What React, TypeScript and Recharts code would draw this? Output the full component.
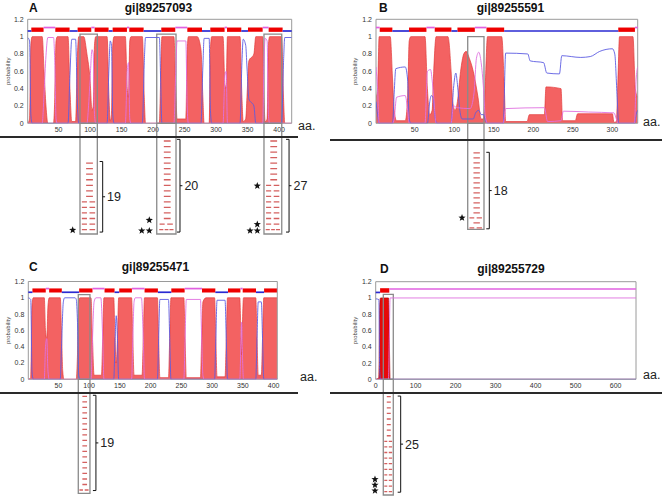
import React from 'react';
import {
  ComposedChart, Area, Line, Scatter, XAxis, YAxis,
  ReferenceArea, ReferenceLine, ReferenceDot,
} from 'recharts';

type Pt = [number, number];
type Seg = [number, number, string];

const FONT = '"Liberation Sans", Arial, sans-serif';
const yTicks = [0, 0.2, 0.4, 0.6, 0.8, 1, 1.2];

// ---------------- Panel A : gi|89257093 ----------------
const aTitle = 'gi|89257093';
const aTicks = [50, 100, 150, 200, 250, 300, 350, 400];
const aTm: Pt[] = [
  [1, 0], [4, 0.05], [6, 0.9], [8, 1], [24, 1], [27, 0.6], [30, 0.2], [33, 0],
  [42, 0], [44, 0.3], [46, 0.95], [48, 1], [65, 1], [68, 0.4], [71, 0.02],
  [77, 0.02], [80, 0.8], [82, 1], [90, 1], [95, 0.8], [100, 0.5], [103, 0.15], [105, 0.2], [107, 0.9], [109, 1],
  [127, 1], [130, 0.3], [132, 0.03], [134, 0.1], [136, 0.9], [138, 1], [156, 1], [159, 0.4], [161, 0.3], [163, 0.95], [165, 1],
  [183, 1], [186, 0.3], [188, 0], [210, 0], [212, 0.5], [214, 1], [233, 1], [236, 0.4], [238, 0.05],
  [252, 0.05], [254, 0.8], [256, 1], [270, 1], [276, 0.85], [279, 0.3], [281, 0], [289, 0], [291, 0.85], [293, 1],
  [311, 1], [314, 0.45], [316, 0.4], [318, 1], [338, 1], [341, 0.3], [343, 0.02], [347, 0.05], [349, 0.3], [352, 0.72],
  [360, 0.8], [363, 1], [374, 1], [376, 0.3], [378, 0.02], [381, 0.05], [383, 0.9], [385, 1], [404, 1], [407, 0.3], [409, 0], [420, 0],
];
const aIn: Pt[] = [
  [1, 0.99], [4, 0.95], [6, 0.1], [8, 0], [65, 0], [68, 0.55], [71, 0.97], [77, 0.97], [80, 0.2], [82, 0],
  [127, 0], [130, 0.65], [132, 0.95], [134, 0.9], [136, 0.1], [138, 0], [183, 0], [186, 0.7], [188, 0.99],
  [210, 0.99], [212, 0.5], [214, 0], [276, 0], [279, 0.65], [281, 0.98], [289, 0.98], [291, 0.15], [293, 0],
  [338, 0], [341, 0.7], [343, 0.97], [347, 0.9], [349, 0.65], [352, 0.28], [360, 0.2], [363, 0],
  [404, 0], [407, 0.7], [409, 0.99], [420, 0.99],
];
const aOut: Pt[] = [
  [1, 0], [24, 0], [27, 0.35], [30, 0.78], [33, 0.99], [42, 0.99], [44, 0.7], [46, 0.05], [48, 0],
  [95, 0], [98, 0.25], [100, 0.5], [103, 0.85], [105, 0.8], [107, 0.1], [109, 0],
  [156, 0], [159, 0.6], [161, 0.7], [163, 0.05], [165, 0], [233, 0], [236, 0.6], [238, 0.95],
  [252, 0.95], [254, 0.2], [256, 0], [311, 0], [314, 0.55], [316, 0.6], [318, 0],
  [374, 0], [376, 0.7], [378, 0.98], [381, 0.95], [383, 0.1], [385, 0], [420, 0],
];
const aTopo: Seg[] = [
  [1, 6.7, 'in'], [6.7, 26.2, 'tm'], [26.2, 44.8, 'out'], [44.8, 67.5, 'tm'], [67.5, 80.2, 'in'],
  [80.2, 101.9, 'tm'], [101.9, 107.2, 'out'], [107.2, 129.4, 'tm'], [129.4, 135.8, 'in'], [135.8, 158.5, 'tm'],
  [158.5, 162.2, 'out'], [162.2, 185, 'tm'], [185, 213, 'in'], [213, 235.2, 'tm'], [235.2, 254.3, 'out'],
  [254.3, 277.6, 'tm'], [277.6, 290.8, 'in'], [290.8, 313.5, 'tm'], [313.5, 317.3, 'out'], [317.3, 340, 'tm'],
  [340, 350.6, 'in'], [350.6, 373.9, 'tm'], [373.9, 383.4, 'out'], [383.4, 405.6, 'tm'], [405.6, 420, 'in'],
];
const aBoxes: Pt[] = [[84, 111.5], [205.8, 236.4], [376, 404.2]];
const aRows: string[] = ['ssssssspppppp', 'ssssssssssssssspt', 'ssssssssppppppppt'];
const aBrackets: [number, number, number, string][] = [
  [120, 13.1, 0.35, '19'], [242.7, 17.1, 0.35, '20'], [415.8, 17.1, 0.35, '27'],
];
const aStars: Pt[] = [[72.4, 0.7], [194, 2.5], [182, 0.6], [194, 0.6], [365.4, 8.7], [365.4, 1.75], [353.9, 0.6], [365.4, 0.6]];

// ---------------- Panel B : gi|89255591 ----------------
const bTitle = 'gi|89255591';
const bTicks = [50, 100, 150, 200, 250, 300];
const bTm: Pt[] = [
  [1, 0.3], [3, 0.4], [5, 1], [19, 1], [22, 0.5], [24, 0.15], [27, 0.03], [38, 0.03], [41, 0.3], [43, 0.95], [45, 1],
  [63, 1], [66, 0.4], [69, 0.1], [72, 0.15], [74, 0.6], [77, 1], [92, 1], [96, 0.6], [98, 0.25], [101, 0.15],
  [104, 0.25], [108, 0.6], [112, 0.8], [115, 0.83], [119, 0.75], [124, 0.6], [130, 0.3], [134, 0.05], [137, 0.05],
  [139, 0.4], [142, 1], [160, 1], [163, 0.5], [165, 0.02], [192, 0.02], [195, 0.1], [214, 0.1], [216, 0.42],
  [235, 0.4], [237, 0.03], [253, 0.03], [256, 0.11], [300, 0.11], [302, 0.01], [305, 0.02], [307, 0.5], [309, 1],
  [326, 1], [329, 0.4], [332, 0.3],
];
const bIn: Pt[] = [
  [1, 0.25], [3, 0.1], [5, 0], [22, 0], [24, 0.35], [26, 0.63], [38, 0.65], [41, 0.5], [43, 0.05], [45, 0],
  [66, 0], [69, 0.25], [71, 0.32], [73, 0.3], [76, 0.05], [78, 0], [96, 0], [99, 0.4], [102, 0.58], [104, 0.45],
  [107, 0.15], [110, 0.05], [124, 0.05], [127, 0.12], [131, 0.15], [134, 0.1], [137, 0.1], [140, 0.02], [142, 0],
  [162, 0], [165, 0.81], [193, 0.8], [196, 0.72], [213, 0.7], [217, 0.58], [233, 0.57], [236, 0.78], [260, 0.76],
  [272, 0.77], [284, 0.83], [300, 0.86], [303, 0.8], [306, 0.3], [308, 0], [328, 0], [330, 0.1], [332, 0.15],
];
const bOut: Pt[] = [
  [1, 0.65], [3, 0.4], [5, 0], [22, 0], [24, 0.05], [27, 0.3], [38, 0.32], [41, 0.15], [43, 0], [63, 0],
  [66, 0.6], [70, 0.62], [72, 0.5], [74, 0.3], [77, 0], [96, 0], [99, 0.2], [104, 0.18], [120, 0.17], [125, 0.35],
  [128, 0.75], [131, 0.82], [134, 0.7], [137, 0.4], [139, 0.1], [142, 0], [162, 0], [165, 0.17], [214, 0.18],
  [218, 0.02], [235, 0.03], [238, 0.14], [270, 0.13], [302, 0.12], [305, 0.05], [307, 0], [328, 0], [330, 0.5], [332, 0.65],
];
const bTopo: Seg[] = [
  [1, 5.7, 'out'], [5.7, 21.7, 'tm'], [21.7, 42.8, 'in'], [42.8, 64.8, 'tm'], [64.8, 75.3, 'out'],
  [75.3, 96.4, 'tm'], [96.4, 104, 'in'], [104, 126, 'tm'], [126, 140.7, 'out'], [140.7, 163.1, 'tm'],
  [163.1, 307.4, 'in'], [307.4, 328.5, 'tm'], [328.5, 332, 'out'],
];
const bBoxes: Pt[] = [[117, 137.6]];
const bRows: string[] = ['ssssssssssssspsp'];
const bBrackets: [number, number, number, string][] = [[144.3, 15.4, 0.1, '18']];
const bStars: Pt[] = [[109.8, 2.3]];

// ---------------- Panel C : gi|89255471 ----------------
const cTitle = 'gi|89255471';
const cTicks = [50, 100, 150, 200, 250, 300, 350, 400];
const cTm: Pt[] = [
  [1, 0], [5, 0.02], [7, 0.9], [9, 1], [27, 1], [29, 0.6], [31, 0.5], [33, 0.9], [35, 1], [53, 1], [55, 0.6],
  [57, 0.1], [59, 0], [79, 0], [81, 0.3], [83, 0.95], [85, 1], [103, 1], [105, 0.6], [108, 0.05], [120, 0.05],
  [122, 0.5], [124, 1], [140, 1], [142, 0.5], [144, 0.2], [146, 0.5], [148, 1], [169, 1], [171, 0.5], [173, 0.05],
  [186, 0.05], [188, 0.5], [190, 1], [211, 1], [213, 0.5], [215, 0.02], [229, 0.02], [231, 0.5], [233, 1],
  [254, 1], [256, 0.5], [258, 0.02], [281, 0.02], [283, 0.5], [285, 0.95], [290, 1], [304, 1], [306, 0.5],
  [308, 0.03], [321, 0.03], [323, 0.5], [325, 1], [345, 1], [347, 0.5], [348, 0.3], [349, 0.6], [351, 1],
  [371, 1], [373, 0.5], [375, 0.05], [380, 0.05], [382, 0.5], [384, 1], [406, 1],
];
const cIn: Pt[] = [
  [1, 1], [5, 0.98], [7, 0.1], [9, 0], [53, 0], [55, 0.4], [58, 0.95], [60, 1], [77, 1], [79, 0.98], [81, 0.7],
  [83, 0.05], [85, 0], [140, 0], [142, 0.45], [144, 0.78], [146, 0.5], [148, 0], [211, 0], [213, 0.5], [215, 0.98],
  [229, 0.98], [231, 0.5], [233, 0], [304, 0], [306, 0.5], [308, 0.97], [321, 0.97], [323, 0.5], [325, 0],
  [371, 0], [373, 0.5], [375, 0.95], [380, 0.95], [382, 0.5], [384, 0], [406, 0],
];
const cOut: Pt[] = [
  [1, 0], [27, 0], [29, 0.4], [31, 0.5], [33, 0.1], [35, 0], [103, 0], [105, 0.4], [108, 0.95], [111, 1],
  [119, 1], [122, 0.5], [124, 0], [169, 0], [171, 0.5], [173, 0.95], [175, 1], [185, 1], [188, 0.5], [190, 0],
  [254, 0], [256, 0.5], [258, 0.98], [281, 0.98], [283, 0.5], [285, 0.05], [287, 0], [345, 0], [347, 0.5],
  [348, 0.7], [349, 0.4], [351, 0], [406, 0],
];
const cTopo: Seg[] = [
  [1, 7.7, 'in'], [7.7, 29.4, 'tm'], [29.4, 34.9, 'out'], [34.9, 55.5, 'tm'], [55.5, 83.7, 'in'],
  [83.7, 105.4, 'tm'], [105.4, 125, 'out'], [125, 141.3, 'tm'], [141.3, 148.9, 'in'], [148.9, 169.5, 'tm'],
  [169.5, 190.1, 'out'], [190.1, 211.8, 'tm'], [211.8, 233.6, 'in'], [233.6, 255.3, 'tm'], [255.3, 283.5, 'out'],
  [283.5, 305.2, 'tm'], [305.2, 325.8, 'in'], [325.8, 346, 'tm'], [346, 349.7, 'out'], [349.7, 371.4, 'tm'],
  [371.4, 384.5, 'in'], [384.5, 405.6, 'tm'], [405.6, 406, 'out'],
];
const cBoxes: Pt[] = [[82.3, 101.3]];
const cRows: string[] = ['sssssssssssssssssp'];
const cBrackets: [number, number, number, string][] = [[111, 17.8, 0.5, '19']];
const cStars: Pt[] = [];

// ---------------- Panel D : gi|89255729 ----------------
const dTitle = 'gi|89255729';
const dTicks = [0, 100, 200, 300, 400, 500, 600];
const dTm: Pt[] = [[0, 0], [8, 0.02], [10, 0.9], [12, 1], [32, 1], [34, 0.5], [36, 0], [651, 0]];
const dIn: Pt[] = [[0, 0.99], [8, 0.98], [10, 0.1], [12, 0], [651, 0]];
const dOut: Pt[] = [[0, 0], [32, 0], [34, 0.5], [36, 1], [651, 1]];
const dTopo: Seg[] = [[0, 11, 'in'], [11, 34, 'tm'], [34, 651, 'out']];
const dBoxes: Pt[] = [[19, 44]];
const dRows: string[] = ['sssssssspppppppppp'];
const dBrackets: [number, number, number, string][] = [[62.5, 17.7, 0.5, '25']];
const dStars: Pt[] = [[-1.75, 2.8], [-1.75, 1.8], [-1.75, 0.77]];

// ---------------- helpers ----------------
const toXY = (arr: Pt[]) => arr.map(([x, y]) => ({ x, y }));

function starPath(cx: number, cy: number, R: number, r: number) {
  let d = '';
  for (let i = 0; i < 10; i++) {
    const ang = -Math.PI / 2 + (i * Math.PI) / 5;
    const rad = i % 2 === 0 ? R : r;
    d += (i === 0 ? 'M' : 'L') + (cx + rad * Math.cos(ang)).toFixed(2) + ',' + (cy + rad * Math.sin(ang)).toFixed(2);
  }
  return d + 'Z';
}

const StarShape = (props: any) => {
  const { cx, cy } = props;
  if (cx == null || cy == null) return null;
  return <path d={starPath(cx, cy, 3.8, 1.6)} fill="#111" />;
};

const makeDash = (bw: number) => (props: any) => {
  const { cx, cy, payload } = props;
  if (cx == null || cy == null) return null;
  const k = payload.k;
  let segs: [number, number][];
  if (k === 's') segs = [[-0.15 * bw, 0.25 * bw]];
  else if (k === 'p') segs = [[-0.4 * bw, -0.1 * bw], [0.05 * bw, 0.38 * bw]];
  else segs = [[-0.42 * bw, -0.18 * bw], [-0.1 * bw, 0.12 * bw], [0.18 * bw, 0.42 * bw]];
  return (
    <g>
      {segs.map(([a, b], i) => (
        <line key={i} x1={cx + a} x2={cx + b} y1={cy} y2={cy} stroke="#d4605f" strokeWidth={1.3} />
      ))}
    </g>
  );
};

type Rect = { left: number; top: number; w: number; h: number };
type Plot = { x0: number; x1: number; y0: number; y1: number };

function Profile(p: {
  box: Rect; plot: Plot; domain: [number, number]; xTicks: number[];
  tm: Pt[]; inn: Pt[]; out: Pt[]; topo: Seg[]; boxes: Pt[]; boxTop: number;
  redFill: string; redStroke: string; topoY: { r0: number; r1: number; b: number; m: number };
  probOffset: number;
}) {
  const { box, plot } = p;
  const xH = 14;
  const margin = {
    top: plot.y0 - box.top,
    left: 0,
    right: box.left + box.w - plot.x1,
    bottom: box.top + box.h - plot.y1 - xH,
  };
  const tickStyle = { fontSize: 7, fill: '#333', fontFamily: FONT };
  return (
    <div style={{ position: 'absolute', left: box.left, top: box.top }}>
      <ComposedChart width={box.w} height={box.h} margin={margin}>
        <XAxis type="number" dataKey="x" domain={p.domain} ticks={p.xTicks} allowDataOverflow interval={0}
          axisLine={false} tickLine={false} tickSize={0} tickMargin={4} height={xH} tick={tickStyle} />
        <YAxis type="number" domain={[0, 1.2]} ticks={yTicks} allowDataOverflow interval={0}
          axisLine={false} tickLine={false} tickSize={0} tickMargin={4} width={plot.x0 - box.left} tick={tickStyle}
          label={{ value: 'probability', angle: -90, position: 'insideLeft', offset: p.probOffset,
            style: { textAnchor: 'middle', fontSize: 6, fill: '#444', fontFamily: FONT } }} />
        <Area data={toXY(p.tm)} dataKey="y" type="monotone" fill={p.redFill} fillOpacity={1}
          stroke={p.redStroke} strokeWidth={0.7} isAnimationActive={false} />
        <Line data={toXY(p.inn)} dataKey="y" type="monotone" stroke="#5c5ce2" strokeWidth={0.9}
          dot={false} isAnimationActive={false} />
        <Line data={toXY(p.out)} dataKey="y" type="monotone" stroke="#e070e0" strokeWidth={0.9}
          dot={false} isAnimationActive={false} />
        {p.topo.map(([s, e, k], i) =>
          k === 'tm' ? (
            <ReferenceArea key={'t' + i} x1={s} x2={e} y1={p.topoY.r0} y2={p.topoY.r1}
              fill="#ee0000" fillOpacity={1} stroke="none" ifOverflow="visible" />
          ) : (
            <ReferenceLine key={'t' + i}
              segment={[{ x: s, y: k === 'in' ? p.topoY.b : p.topoY.m }, { x: e, y: k === 'in' ? p.topoY.b : p.topoY.m }]}
              stroke={k === 'in' ? '#2a2ad2' : '#e060e0'} strokeWidth={1.7} ifOverflow="visible" />
          ))}
        {p.boxes.map(([a, b], i) => (
          <ReferenceArea key={'b' + i} x1={a} x2={b} y1={0} y2={p.boxTop} fill="none"
            stroke="#8a8a8a" strokeWidth={1.3} ifOverflow="visible" />
        ))}
        <ReferenceArea x1={p.domain[0]} x2={p.domain[1]} y1={0} y2={1.2} fill="none"
          stroke="#9a9a9a" strokeWidth={1} ifOverflow="visible" />
      </ComposedChart>
    </div>
  );
}

function Alignment(p: {
  box: Rect; plot: Plot; domain: [number, number]; yDomain: [number, number];
  boxes: Pt[]; rows: string[]; rowBase: number; brackets: [number, number, number, string][];
  stars: Pt[]; tickLen: number; boxPx: number;
}) {
  const { box, plot } = p;
  const margin = {
    top: plot.y0 - box.top,
    left: plot.x0 - box.left,
    right: box.left + box.w - plot.x1,
    bottom: box.top + box.h - plot.y1,
  };
  const dashData: { x: number; y: number; k: string }[] = [];
  p.boxes.forEach(([a, b], i) => {
    const s = p.rows[i];
    const n = s.length;
    for (let j = 0; j < n; j++) {
      dashData.push({ x: (a + b) / 2, y: p.rowBase + (n - 1 - j), k: s[j] });
    }
  });
  const starData = p.stars.map(([x, y]) => ({ x, y }));
  const Dash = makeDash(p.boxPx);
  return (
    <div style={{ position: 'absolute', left: box.left, top: box.top }}>
      <ComposedChart width={box.w} height={box.h} margin={margin}>
        <XAxis type="number" dataKey="x" domain={p.domain} allowDataOverflow hide />
        <YAxis type="number" dataKey="y" domain={p.yDomain} allowDataOverflow hide />
        {p.boxes.map(([a, b], i) => (
          <ReferenceArea key={'b' + i} x1={a} x2={b} y1={p.yDomain[0]} y2={p.yDomain[1]} fill="none"
            stroke="#8a8a8a" strokeWidth={1.3} ifOverflow="visible" />
        ))}
        <Scatter data={dashData} shape={Dash} isAnimationActive={false} />
        <Scatter data={starData} shape={StarShape} isAnimationActive={false} />
        {p.brackets.map(([x, top, bot, label], i) => (
          <React.Fragment key={'k' + i}>
            <ReferenceLine segment={[{ x, y: top }, { x, y: bot }]} stroke="#111" strokeWidth={1} ifOverflow="visible" />
            <ReferenceLine segment={[{ x: x - p.tickLen, y: top }, { x, y: top }]} stroke="#111" strokeWidth={1} ifOverflow="visible" />
            <ReferenceLine segment={[{ x: x - p.tickLen, y: bot }, { x, y: bot }]} stroke="#111" strokeWidth={1} ifOverflow="visible" />
            <ReferenceLine segment={[{ x, y: (top + bot) / 2 }, { x: x + p.tickLen * 0.8, y: (top + bot) / 2 }]} stroke="#111" strokeWidth={1} ifOverflow="visible" />
            <ReferenceDot x={x + p.tickLen * 0.8} y={(top + bot) / 2} r={0.5} fill="none" stroke="none" ifOverflow="visible"
              label={{ value: label, position: 'right', offset: 1.5, fontSize: 12.5, fill: '#222', fontFamily: FONT }} />
          </React.Fragment>
        ))}
      </ComposedChart>
    </div>
  );
}

const titleStyle = (left: number, top: number, center = false): React.CSSProperties => ({
  position: 'absolute', left, top, fontSize: 12, lineHeight: '12px', fontWeight: 'bold',
  fontFamily: FONT, color: '#111', whiteSpace: 'nowrap',
  transform: center ? 'translateX(-50%)' : undefined,
});
const aaStyle = (left: number, top: number): React.CSSProperties => ({
  position: 'absolute', left, top, fontSize: 12.5, lineHeight: '12.5px', fontFamily: FONT, color: '#222',
});
const rule = (left: number, top: number, width: number): React.CSSProperties => ({
  position: 'absolute', left, top, width, height: 2, background: '#2a2a2a',
});

export default function App() {
  const topoAB = { r0: 1.055, r1: 1.105, b: 1.065, m: 1.105 };
  const topoC = { r0: 1.065, r1: 1.115, b: 1.068, m: 1.113 };
  const topoD = { r0: 1.065, r1: 1.12, b: 1.068, m: 1.11 };
  return (
    <div style={{ position: 'absolute', left: 0, top: 0, width: 662, height: 498, background: '#fff', overflow: 'hidden', fontFamily: FONT }}>
      {/* Panel A */}
      <Profile box={{ left: 0, top: 0, w: 300, h: 140 }} plot={{ x0: 27.7, x1: 291.7, y0: 19.3, y1: 123.3 }}
        domain={[1, 420]} xTicks={aTicks} tm={aTm} inn={aIn} out={aOut} topo={aTopo} boxes={aBoxes} boxTop={1.03}
        redFill="#f36262" redStroke="#e23a3a" topoY={topoAB} probOffset={7.5} />
      {/* Panel B */}
      <Profile box={{ left: 330, top: 0, w: 320, h: 140 }} plot={{ x0: 376, x1: 637.7, y0: 19.3, y1: 123.3 }}
        domain={[1, 332]} xTicks={bTicks} tm={bTm} inn={bIn} out={bOut} topo={bTopo} boxes={bBoxes} boxTop={1.0}
        redFill="#f36262" redStroke="#e23a3a" topoY={topoAB} probOffset={24.5} />
      {/* Panel C */}
      <Profile box={{ left: 0, top: 255, w: 300, h: 140 }} plot={{ x0: 28.3, x1: 277.3, y0: 281.5, y1: 379.3 }}
        domain={[1, 406]} xTicks={cTicks} tm={cTm} inn={cIn} out={cOut} topo={cTopo} boxes={cBoxes} boxTop={1.04}
        redFill="#f36262" redStroke="#e23a3a" topoY={topoC} probOffset={7.5} />
      {/* Panel D */}
      <Profile box={{ left: 330, top: 255, w: 320, h: 140 }} plot={{ x0: 375.7, x1: 636, y0: 281.7, y1: 379.3 }}
        domain={[0, 651]} xTicks={dTicks} tm={dTm} inn={dIn} out={dOut} topo={dTopo} boxes={dBoxes} boxTop={1.045}
        redFill="#e60808" redStroke="#b00000" topoY={topoD} probOffset={24.5} />

      <Alignment box={{ left: 0, top: 118, w: 335, h: 120 }} plot={{ x0: 27.7, x1: 291.7, y0: 123.3, y1: 234 }}
        domain={[1, 420]} yDomain={[0, 20]} boxes={aBoxes} rows={aRows} rowBase={0.8} brackets={aBrackets}
        stars={aStars} tickLen={4.8} boxPx={17} />
      <Alignment box={{ left: 330, top: 118, w: 332, h: 115 }} plot={{ x0: 376, x1: 637.7, y0: 123.3, y1: 229.3 }}
        domain={[1, 332]} yDomain={[0, 21.2]} boxes={bBoxes} rows={bRows} rowBase={0.3} brackets={bBrackets}
        stars={bStars} tickLen={3.8} boxPx={16} />
      <Alignment box={{ left: 0, top: 375, w: 335, h: 123 }} plot={{ x0: 28.3, x1: 277.3, y0: 379.3, y1: 493.3 }}
        domain={[1, 406]} yDomain={[0, 20.7]} boxes={cBoxes} rows={cRows} rowBase={0.6} brackets={cBrackets}
        stars={cStars} tickLen={4.9} boxPx={11.7} />
      <Alignment box={{ left: 330, top: 375, w: 332, h: 123 }} plot={{ x0: 355.7, x1: 636, y0: 379.3, y1: 495 }}
        domain={[-50, 651]} yDomain={[0, 20.7]} boxes={dBoxes} rows={dRows} rowBase={0.6} brackets={dBrackets}
        stars={dStars} tickLen={7.5} boxPx={10} />

      <div style={rule(0, 136, 298)} />
      <div style={rule(330, 139, 332)} />
      <div style={rule(0, 392, 298)} />
      <div style={rule(330, 392, 332)} />

      <div style={titleStyle(29, 2)}>A</div>
      <div style={titleStyle(158.5, 2, true)}>{aTitle}</div>
      <div style={titleStyle(379, 2)}>B</div>
      <div style={titleStyle(510.5, 2, true)}>{bTitle}</div>
      <div style={titleStyle(29, 260.5)}>C</div>
      <div style={titleStyle(155.5, 260.5, true)}>{cTitle}</div>
      <div style={titleStyle(380, 262.5)}>D</div>
      <div style={titleStyle(511, 262.5, true)}>{dTitle}</div>

      <div style={aaStyle(298, 120)}>aa.</div>
      <div style={aaStyle(643, 116)}>aa.</div>
      <div style={aaStyle(300, 371)}>aa.</div>
      <div style={aaStyle(643, 368.5)}>aa.</div>
    </div>
  );
}
